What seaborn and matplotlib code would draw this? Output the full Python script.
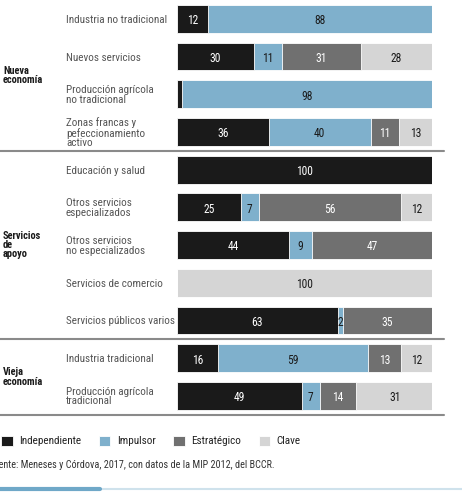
import pandas as pd
import seaborn as sns
import matplotlib.pyplot as plt
from matplotlib.transforms import blended_transform_factory

sns.set_style('white')
plt.rcParams['font.family'] = ['Liberation Sans Narrow', 'Roboto Condensed', 'DejaVu Sans']

# datos (porcentaje por tipo de sector)
sectores = ['Industria no tradicional', 'Nuevos servicios',
            'Producción agrícola\nno tradicional',
            'Zonas francas y\npefeccionamiento\nactivo',
            'Educación y salud', 'Otros servicios\nespecializados',
            'Otros servicios\nno especializados', 'Servicios de comercio',
            'Servicios públicos varios', 'Industria tradicional',
            'Producción agrícola\ntradicional']
independiente = [12, 30, 2, 36, 100, 25, 44, 0, 63, 16, 49]
impulsor = [88, 11, 98, 40, 0, 7, 9, 0, 2, 59, 7]
estrategico = [0, 31, 0, 11, 0, 56, 47, 0, 35, 13, 14]
clave = [0, 28, 0, 13, 0, 12, 0, 100, 0, 12, 31]
grupos = ['Nueva\neconomía', 'Servicios\nde\napoyo', 'Vieja\neconomía']
grupo_pos = [1.5, 6, 9.5]

series = ['Independiente', 'Impulsor', 'Estratégico', 'Clave']
colores = {'Independiente': '#1a1a1a', 'Impulsor': '#7fb0cc',
           'Estratégico': '#707070', 'Clave': '#d5d5d5'}
txt_col = {'Independiente': 'white', 'Impulsor': '#1a1a1a',
           'Estratégico': 'white', 'Clave': '#1a1a1a'}

df = pd.DataFrame({'sector': sectores, 'Independiente': independiente,
                   'Impulsor': impulsor, 'Estratégico': estrategico,
                   'Clave': clave})
cum = df[series].cumsum(axis=1)
cum['sector'] = df['sector']

fig = plt.figure(figsize=(4.62, 4.92), dpi=100)
ax = fig.add_axes([177/462, 1 - 414.7/492, 255/462, 414.7/492])

# barras apiladas: se dibuja el acumulado de mayor a menor
for s in series[::-1]:
    sns.barplot(data=cum, x=s, y='sector', orient='h', color=colores[s],
                width=0.74, label=s, ax=ax, edgecolor='white', linewidth=0.6,
                saturation=1)

ocultar = [('Producción agrícola\nno tradicional', 'Independiente')]
for i, row in df.iterrows():
    for s in series:
        v = row[s]
        if v <= 0 or (row['sector'], s) in ocultar:
            continue
        ax.text(cum.loc[i, s] - v / 2, i + 0.05, str(v), ha='center', va='center',
                fontsize=8.3, color=txt_col[s])

ax.set_xlim(0, 100)
ax.set_ylim(10.5, -0.5)
ax.set_xlabel('')
ax.set_ylabel('')
ax.set_xticks([])
sns.despine(ax=ax, left=True, bottom=True)
ax.tick_params(axis='y', length=0, pad=80)
for lab in ax.get_yticklabels():
    lab.set_ha('left')
    lab.set_color('#555555')
    lab.set_fontsize(8)
    lab.set_linespacing(0.95)

tr = blended_transform_factory(fig.transFigure, ax.transData)
for g, y in zip(grupos, grupo_pos):
    ax.text(3/462, y, g, transform=tr, ha='left', va='center', fontsize=7.5,
            fontweight='bold', color='#1a1a1a', linespacing=0.9)

for y in [3.5, 8.5, 10.5]:
    ax.plot([0, 444/462], [y, y], transform=tr, color='#8a8a8a', lw=1.5,
            clip_on=False)

h, l = ax.get_legend_handles_labels()
orden = [l.index(s) for s in series]
ax.legend([h[k] for k in orden], series, loc='center left', ncol=4,
          bbox_to_anchor=(-3/462, 1 - 441/492), bbox_transform=fig.transFigure,
          frameon=False, fontsize=8, handlelength=1.0, handleheight=1.0,
          handletextpad=0.6, columnspacing=1.6, borderaxespad=0,
          labelcolor='#222222')

fig.text(-11/462, 1 - 465/492, 'Fuente: Meneses y Córdova, 2017, con datos de la MIP 2012, del BCCR.',
         ha='left', va='center', fontsize=7.3, color='#333333')

fig.add_artist(plt.Line2D([0, 1], [1 - 489/492] * 2, color='#cfe2ec', lw=1.5))
fig.add_artist(plt.Line2D([0, 100/462], [1 - 489/492] * 2, color='#6fa8c8', lw=3))

fig.savefig('out.png', dpi=100)
